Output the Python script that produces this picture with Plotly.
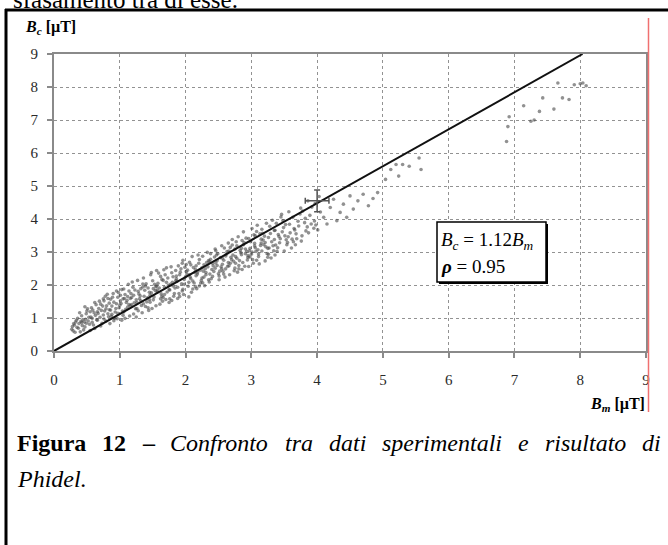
import plotly.graph_objects as go

# ---------------- data ----------------
bm_measured = [
    0.27, 0.31, 0.29, 0.33, 0.35, 0.28, 0.32, 0.34, 0.30,
    0.38, 0.42, 0.37, 0.44, 0.40, 0.39, 0.43, 0.41, 0.36, 0.45, 0.42,
    0.53, 0.47, 0.51, 0.46, 0.54, 0.49, 0.48, 0.55, 0.50, 0.52, 0.47, 0.49,
    0.61, 0.58, 0.64, 0.56, 0.62, 0.59, 0.65, 0.57, 0.63, 0.60, 0.55, 0.62, 0.58,
    0.72, 0.66, 0.75, 0.69, 0.71, 0.74, 0.67, 0.70, 0.73, 0.68, 0.75, 0.66, 0.71,
    0.79, 0.84, 0.76, 0.82, 0.78, 0.85, 0.80, 0.77, 0.83, 0.81, 0.76, 0.84, 0.79, 0.82,
    0.88, 0.93, 0.86, 0.91, 0.95, 0.87, 0.90, 0.94, 0.89, 0.92, 0.86, 0.95, 0.91, 0.88,
    1.02, 0.97, 1.05, 0.99, 1.03, 0.96, 1.01, 1.04, 0.98, 1.00, 1.05, 0.97, 1.03, 1.01,
    1.07, 1.12, 1.14, 1.06, 1.10, 1.13, 1.08, 1.15, 1.11, 1.09, 1.06, 1.14, 1.12, 1.08,
    1.18, 1.23, 1.16, 1.21, 1.25, 1.19, 1.22, 1.17, 1.24, 1.20, 1.16, 1.25, 1.21, 1.18,
    1.28, 1.32, 1.35, 1.26, 1.31, 1.34, 1.27, 1.30, 1.33, 1.29, 1.35, 1.26, 1.32, 1.28,
    1.37, 1.43, 1.39, 1.45, 1.36, 1.41, 1.44, 1.38, 1.42, 1.40, 1.36, 1.45, 1.39, 1.43,
    1.48, 1.53, 1.46, 1.51, 1.55, 1.47, 1.52, 1.49, 1.54, 1.50, 1.46, 1.55, 1.51, 1.48,
    1.57, 1.62, 1.64, 1.56, 1.61, 1.59, 1.63, 1.58, 1.65, 1.60, 1.56, 1.64, 1.62, 1.57,
    1.68, 1.73, 1.66, 1.71, 1.75, 1.67, 1.72, 1.69, 1.74, 1.70, 1.66, 1.75, 1.71, 1.68,
    1.77, 1.83, 1.79, 1.85, 1.76, 1.81, 1.84, 1.78, 1.82, 1.80, 1.76, 1.85, 1.81, 1.79,
    1.87, 1.92, 1.95, 1.86, 1.91, 1.89, 1.94, 1.88, 1.93, 1.90, 1.86, 1.95, 1.91, 1.88,
    1.98, 2.03, 1.96, 2.01, 2.05, 1.97, 2.02, 1.99, 2.04, 2.00, 1.96, 2.05, 2.01, 1.98,
    2.07, 2.12, 2.15, 2.06, 2.11, 2.09, 2.14, 2.08, 2.13, 2.10, 2.06, 2.15, 2.11, 2.08,
    2.18, 2.23, 2.16, 2.21, 2.25, 2.17, 2.22, 2.19, 2.24, 2.20, 2.16, 2.25, 2.21, 2.18,
    2.27, 2.32, 2.35, 2.26, 2.31, 2.29, 2.34, 2.28, 2.33, 2.30, 2.26, 2.35, 2.31, 2.28,
    2.38, 2.43, 2.36, 2.41, 2.45, 2.37, 2.42, 2.39, 2.44, 2.40, 2.36, 2.45, 2.41, 2.38,
    2.47, 2.52, 2.55, 2.46, 2.51, 2.49, 2.54, 2.48, 2.53, 2.50, 2.46, 2.55, 2.51, 2.48,
    2.58, 2.63, 2.56, 2.61, 2.65, 2.57, 2.62, 2.59, 2.64, 2.60, 2.56, 2.65, 2.61, 2.58,
    2.67, 2.72, 2.75, 2.66, 2.71, 2.69, 2.74, 2.68, 2.73, 2.70, 2.66, 2.75, 2.71, 2.68,
    2.78, 2.83, 2.76, 2.81, 2.85, 2.77, 2.82, 2.79, 2.84, 2.80, 2.76, 2.85, 2.81, 2.78,
    2.87, 2.92, 2.95, 2.86, 2.91, 2.89, 2.94, 2.88, 2.93, 2.90, 2.86, 2.95, 2.91, 2.88,
    2.98, 3.03, 2.96, 3.01, 3.05, 2.97, 3.02, 2.99, 3.04, 3.00, 2.96, 3.05, 3.01, 2.98,
    3.07, 3.12, 3.15, 3.06, 3.11, 3.09, 3.14, 3.08, 3.13, 3.10, 3.06, 3.15, 3.11, 3.08,
    3.18, 3.23, 3.16, 3.21, 3.25, 3.17, 3.22, 3.19, 3.24, 3.20, 3.16, 3.25, 3.21,
    3.27, 3.32, 3.35, 3.26, 3.31, 3.29, 3.34, 3.28, 3.33, 3.30, 3.26, 3.35,
    3.38, 3.43, 3.36, 3.41, 3.45, 3.37, 3.42, 3.39, 3.44, 3.40, 3.36,
    3.47, 3.52, 3.55, 3.46, 3.51, 3.49, 3.54, 3.48, 3.53, 3.50,
    3.58, 3.63, 3.56, 3.61, 3.65, 3.57, 3.62, 3.59, 3.64,
    3.67, 3.72, 3.75, 3.66, 3.71, 3.69, 3.74, 3.68,
    3.78, 3.83, 3.76, 3.81, 3.85, 3.77, 3.82,
    3.87, 3.92, 3.95, 3.86, 3.91, 3.89,
    3.98, 4.03, 3.96, 4.01, 4.05, 3.97,
    4.10, 4.15, 4.20, 4.25, 4.30, 4.35, 4.40, 4.45, 4.50, 4.55,
    4.62, 4.70, 4.78, 4.85, 4.92, 5.04, 5.12, 5.20, 5.24, 5.30,
    5.40, 5.55, 5.58, 6.88, 6.90, 6.92, 7.14, 7.25, 7.30, 7.38,
    7.43, 7.60, 7.66, 7.73, 7.83, 7.91, 8.00, 8.04, 8.09,
]
bc_computed = [
    0.66, 0.79, 0.61, 0.88, 0.72, 0.74, 0.57, 0.93, 0.83,
    0.83, 1.07, 0.69, 0.95, 0.58, 1.16, 0.77, 0.90, 0.99, 0.64, 0.86,
    1.02, 0.73, 1.28, 0.88, 0.81, 1.13, 0.96, 0.62, 1.21, 0.91, 1.34, 0.84,
    1.16, 0.87, 1.40, 1.03, 0.68, 1.24, 0.95, 1.31, 1.08, 0.79, 1.19, 1.47, 0.99,
    1.23, 0.93, 1.09, 1.51, 0.76, 1.36, 1.14, 1.02, 0.84, 1.29, 1.58, 1.19, 1.42,
    1.28, 1.45, 0.97, 1.13, 1.66, 0.83, 1.37, 1.21, 1.04, 1.72, 1.52, 1.25, 0.91, 1.59,
    1.36, 1.18, 1.57, 0.92, 1.43, 1.05, 1.74, 1.29, 1.63, 0.99, 1.24, 1.82, 1.48, 1.11,
    1.44, 1.63, 1.08, 1.31, 1.86, 0.98, 1.52, 1.21, 1.77, 1.39, 1.58, 1.14, 0.93, 1.69,
    1.59, 1.33, 1.82, 1.18, 1.47, 2.02, 1.71, 1.06, 1.54, 1.26, 1.88, 1.41, 1.65, 0.99,
    1.62, 1.85, 1.37, 1.12, 1.55, 2.09, 1.46, 1.74, 1.28, 1.93, 1.59, 1.03, 1.69, 1.41,
    1.81, 1.52, 1.94, 1.29, 1.67, 1.16, 2.14, 1.58, 1.38, 1.73, 2.03, 1.47, 1.89, 1.22,
    1.66, 1.91, 1.35, 1.78, 2.21, 1.49, 1.23, 1.84, 1.61, 2.04, 1.43, 1.56, 1.97, 1.31,
    1.76, 2.02, 1.48, 1.89, 1.37, 2.31, 1.64, 1.29, 1.83, 2.13, 1.69, 1.95, 1.55, 2.38,
    1.85, 1.58, 2.17, 1.97, 1.42, 2.36, 1.73, 2.05, 1.51, 1.91, 2.44, 1.66, 2.26, 1.79,
    1.93, 2.21, 1.62, 2.08, 1.47, 2.46, 1.79, 2.31, 1.99, 1.56, 2.14, 1.86, 2.52, 1.71,
    2.02, 1.74, 2.37, 2.13, 1.58, 2.25, 1.91, 2.55, 1.66, 2.08, 1.85, 2.44, 1.97, 1.53,
    2.11, 2.39, 1.82, 2.27, 1.65, 2.58, 2.04, 1.93, 2.49, 1.74, 2.19, 2.66, 2.31, 1.59,
    2.17, 2.45, 1.87, 2.62, 2.08, 1.71, 2.33, 2.54, 1.96, 2.25, 2.75, 1.64, 2.41, 2.02,
    2.24, 2.53, 1.95, 2.69, 2.12, 1.78, 2.38, 2.61, 2.06, 2.86, 2.31, 2.47, 1.88, 2.19,
    2.33, 2.06, 2.58, 2.77, 2.21, 1.89, 2.45, 2.91, 2.14, 2.66, 2.28, 2.52, 1.97, 2.39,
    2.42, 2.68, 2.16, 2.87, 2.31, 1.98, 2.55, 2.24, 2.99, 2.49, 2.07, 2.74, 2.38, 2.61,
    2.95, 2.41, 2.09, 2.66, 3.09, 2.33, 2.58, 2.19, 2.85, 2.47, 2.71, 2.51, 2.26, 2.78,
    2.91, 2.42, 3.19, 2.67, 2.27, 2.95, 2.55, 2.59, 2.83, 2.34, 3.04, 2.49, 2.16, 2.74,
    2.33, 3.01, 2.63, 2.88, 2.68, 2.42, 2.93, 3.12, 2.57, 2.24, 2.81, 3.27, 2.49, 2.75,
    2.31, 2.91, 3.09, 2.58, 3.38, 2.84, 2.43, 3.14, 2.72, 2.77, 3.03, 2.51, 3.21, 2.66,
    2.81, 3.05, 2.86, 2.59, 3.11, 3.31, 2.74, 2.39, 2.98, 3.46, 2.66, 2.92, 2.49, 3.19,
    2.68, 3.42, 2.84, 2.47, 3.09, 3.29, 2.76, 3.61, 3.02, 2.57, 3.35, 2.89, 2.95, 3.22,
    3.11, 2.66, 3.41, 3.00, 3.26, 3.04, 2.77, 3.31, 3.52, 2.93, 2.56, 3.18, 3.71, 2.85,
    3.02, 2.64, 3.27, 3.49, 2.94, 3.81, 3.20, 2.75, 3.55, 3.07, 3.13, 3.39, 2.86, 3.62,
    3.36, 3.87, 3.03, 3.29, 2.84, 3.57, 3.16, 3.22, 2.95, 3.48, 3.69, 3.11, 2.73,
    3.12, 3.96, 3.38, 2.93, 3.31, 3.56, 3.04, 3.78, 3.19, 2.82, 3.44, 3.65,
    3.87, 3.28, 2.91, 3.53, 4.06, 3.21, 3.47, 3.02, 3.40, 3.13, 3.66,
    3.61, 3.83, 3.29, 4.14, 3.49, 3.74, 3.22, 3.95, 3.37, 3.03,
    3.84, 4.05, 3.46, 3.12, 3.71, 4.22, 3.39, 3.58, 3.31,
    3.22, 3.79, 4.33, 3.67, 3.93, 3.40, 4.15, 3.55,
    4.24, 3.64, 3.33, 3.89, 3.76, 3.49, 4.02,
    3.58, 4.36, 3.72, 4.55, 3.85, 4.11,
    3.82, 4.68, 3.94, 3.67, 4.21, 4.47,
    4.05, 3.85, 4.35, 4.60, 3.95, 4.20, 4.45, 4.05, 4.70, 4.30,
    4.55, 4.75, 4.40, 4.62, 4.80, 5.20, 5.50, 5.65, 5.30, 5.65,
    5.60, 5.85, 5.50, 6.35, 6.80, 7.10, 7.43, 6.96, 7.00, 7.26,
    7.67, 7.33, 8.12, 7.67, 7.62, 8.07, 8.10, 8.12, 8.04,
]
fit_slope = 1.12
rho = 0.95
ref_point_bm = [4.0]
ref_point_bc = [4.55]
ref_err_bm = [0.18]
ref_err_bc = [0.33]
x_ticks = [0, 1, 2, 3, 4, 5, 6, 7, 8, 9]
y_ticks = [0, 1, 2, 3, 4, 5, 6, 7, 8, 9]
axis_max = 9

caption_words = [("Figura", "b"), ("12", "b"), ("–", "b"), ("Confronto", "i"),
                 ("tra", "i"), ("dati", "i"), ("sperimentali", "i"), ("e", "i"),
                 ("risultato", "i"), ("di", "i")]
caption_line2 = "Phidel."

# ---------------- layout helpers ----------------
W, H = 668, 545
ML, MR, MT, MB = 54, 22, 54, 194
PW, PH = W - ML - MR, H - MT - MB


def px(x):
    return (x - ML) / PW


def py(y):
    return 1 - (y - MT) / PH


SERIF = "Liberation Serif, Times New Roman, serif"

# Times/Liberation Serif advance widths (1/1000 em) for justification of the caption
BOLD_W = {"F": 611, "i": 278, "g": 500, "u": 556, "r": 444, "a": 500, "1": 500, "2": 500, "–": 500}
ITAL_W = {"C": 667, "o": 500, "n": 500, "f": 278, "r": 389, "t": 278, "a": 500, "d": 500,
          "i": 278, "s": 389, "p": 500, "e": 444, "m": 722, "l": 278, "u": 500}

fig = go.Figure()

fig.add_trace(go.Scatter(
    x=bm_measured, y=bc_computed, mode="markers",
    marker=dict(size=3.6, color="#484848", opacity=0.6, line=dict(width=0)),
    hoverinfo="skip", showlegend=False,
))

line_x = [0, axis_max / fit_slope]
fig.add_trace(go.Scatter(
    x=line_x, y=[v * fit_slope for v in line_x], mode="lines",
    line=dict(color="#111111", width=2), showlegend=False, hoverinfo="skip",
))

fig.add_trace(go.Scatter(
    x=ref_point_bm, y=ref_point_bc, mode="markers",
    marker=dict(size=1, color="rgba(0,0,0,0)"),
    error_x=dict(type="data", array=ref_err_bm, color="#555555", thickness=1.5, width=3),
    error_y=dict(type="data", array=ref_err_bc, color="#555555", thickness=1.5, width=3),
    showlegend=False, hoverinfo="skip",
))

axis_common = dict(
    range=[0, axis_max], showgrid=True, gridcolor="#929292", griddash="dot", gridwidth=1,
    showline=True, linecolor="#8a8a8a", linewidth=2, mirror=True,
    ticks="outside", ticklen=5, tickcolor="#8a8a8a", tickwidth=1.5,
    tickfont=dict(family=SERIF, size=15, color="#2a2a2a"), zeroline=False,
    fixedrange=True,
)
fig.update_xaxes(**axis_common, tickvals=x_ticks, ticklabelstandoff=9)
fig.update_yaxes(**axis_common, tickvals=y_ticks, ticklabelstandoff=6)

shapes = []
shapes.append(dict(type="line", xref="paper", yref="paper",
                   x0=px(5), x1=px(668), y0=py(10), y1=py(10),
                   line=dict(color="black", width=3)))
shapes.append(dict(type="line", xref="paper", yref="paper",
                   x0=px(6), x1=px(6), y0=py(9), y1=py(545),
                   line=dict(color="black", width=3)))
shapes.append(dict(type="line", xref="paper", yref="paper",
                   x0=px(648.5), x1=px(648.5), y0=py(18), y1=py(412),
                   line=dict(color="#f07070", width=1.5)))
shapes.append(dict(type="rect", xref="paper", yref="paper",
                   x0=px(439), x1=px(548), y0=py(224), y1=py(284),
                   fillcolor="black", line=dict(width=0)))
shapes.append(dict(type="rect", xref="paper", yref="paper",
                   x0=px(437), x1=px(546), y0=py(222), y1=py(282),
                   fillcolor="white", line=dict(color="black", width=1.5)))

annotations = []
annotations.append(dict(xref="paper", yref="paper", x=px(11), y=py(0),
                        xanchor="left", yanchor="middle", showarrow=False,
                        text="sfasamento tra di esse.",
                        font=dict(family=SERIF, size=25, color="black")))
annotations.append(dict(xref="paper", yref="paper", x=px(23), y=py(28),
                        xanchor="left", yanchor="middle", showarrow=False,
                        text="<b><i>B</i><sub><i>c</i></sub> [µT]</b>",
                        font=dict(family=SERIF, size=16, color="black")))
annotations.append(dict(xref="paper", yref="paper", x=px(647), y=py(404),
                        xanchor="right", yanchor="middle", showarrow=False,
                        text="<b><i>B</i><sub><i>m</i></sub> [µT]</b>",
                        font=dict(family=SERIF, size=16, color="black")))
annotations.append(dict(xref="paper", yref="paper", x=px(439), y=py(241),
                        xanchor="left", yanchor="middle", showarrow=False,
                        text=f"<i>B</i><sub><i>c</i></sub> = {fit_slope:.2f}<i>B</i><sub><i>m</i></sub>",
                        font=dict(family=SERIF, size=19, color="black")))
annotations.append(dict(xref="paper", yref="paper", x=px(439), y=py(266),
                        xanchor="left", yanchor="middle", showarrow=False,
                        text=f"<b><i>ρ</i></b> = {rho:.2f}",
                        font=dict(family=SERIF, size=19, color="black")))

# justified caption line
CAP_SIZE = 24
cap_left, cap_right = 17, 661
widths = []
for word, style in caption_words:
    table = BOLD_W if style == "b" else ITAL_W
    widths.append(sum(table.get(ch, 500) for ch in word) * CAP_SIZE / 1000)
gap = (cap_right - cap_left - sum(widths)) / (len(caption_words) - 1)
xpos = cap_left
for (word, style), wd in zip(caption_words, widths):
    txt = f"<b>{word}</b>" if style == "b" else f"<i>{word}</i>"
    annotations.append(dict(xref="paper", yref="paper", x=px(xpos), y=py(443),
                            xanchor="left", yanchor="middle", showarrow=False,
                            text=txt, borderpad=0, borderwidth=0,
                            font=dict(family=SERIF, size=CAP_SIZE, color="black")))
    xpos += wd + gap
annotations.append(dict(xref="paper", yref="paper", x=px(cap_left), y=py(479),
                        xanchor="left", yanchor="middle", showarrow=False,
                        text=f"<i>{caption_line2}</i>", borderpad=0, borderwidth=0,
                        font=dict(family=SERIF, size=CAP_SIZE, color="black")))

fig.update_layout(
    width=W, height=H, autosize=False,
    margin=dict(l=ML, r=MR, t=MT, b=MB),
    paper_bgcolor="white", plot_bgcolor="white",
    shapes=shapes, annotations=annotations, showlegend=False,
)

fig.write_html("out.html", config={"displayModeBar": False},
               post_script="document.body.style.margin='0px';")
